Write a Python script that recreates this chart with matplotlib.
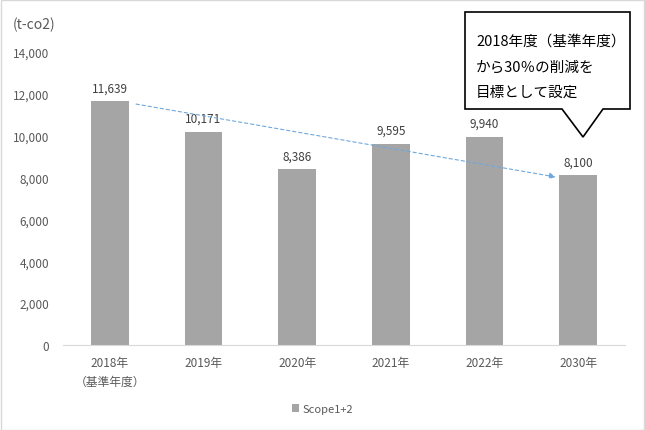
import matplotlib.pyplot as plt
from matplotlib.patches import Polygon

plt.rcParams['font.family'] = ['Noto Sans CJK JP', 'DejaVu Sans']

years = ['2018年\n（基準年度）', '2019年', '2020年', '2021年', '2022年', '2030年']
scope12 = [11639, 10171, 8386, 9595, 9940, 8100]
yticks = [0, 2000, 4000, 6000, 8000, 10000, 12000, 14000]

txt = '#595959'
fig = plt.figure(figsize=(6.45, 4.31), dpi=100)
ax = fig.add_axes([63 / 645, 85 / 431, 562 / 645, 293.3 / 431])

x = list(range(len(scope12)))
bars = ax.bar(x, scope12, width=0.4, color='#a5a5a5', label='Scope1+2', zorder=2)
ax.bar_label(bars, labels=[f'{v:,}' for v in scope12], padding=5, fontsize=8.5, color='#404040')

ax.set_xlim(-0.5, 5.5)
ax.set_ylim(0, 14000)
ax.set_yticks(yticks)
ax.set_yticklabels([f'{v:,}' for v in yticks])
ax.set_xticks(x)
ax.set_xticklabels(years, linespacing=1.6)
ax.tick_params(length=0, labelsize=8.5, colors=txt)
ax.tick_params(axis='y', pad=10)
ax.tick_params(axis='x', pad=8)
for s in ['top', 'right', 'left']:
    ax.spines[s].set_visible(False)
ax.spines['bottom'].set_color('#d9d9d9')

# dashed trend arrow from base year toward 2030 target
ax.annotate('', xy=(x[-1] - 0.24, 8020), xytext=(x[0] + 0.28, 11500),
            arrowprops=dict(arrowstyle='-|>', color='#6fa8dc', lw=0.8, ls=(0, (3, 2.5)),
                            mutation_scale=9, shrinkA=0, shrinkB=0), zorder=3)

fig.text(13 / 645, 1 - 25 / 431, '(t-co2)', fontsize=10, color=txt, va='center')

# callout box
W, H = 645, 431
pts = [(465, 13), (630, 13), (630, 110), (603, 110), (583, 138), (562, 110), (465, 110)]
fig.patches.append(Polygon([(px / W, 1 - py / H) for px, py in pts], closed=True,
                           transform=fig.transFigure, facecolor='white', edgecolor='black',
                           lw=1.2, zorder=5))
for i, line in enumerate(['2018年度（基準年度）', 'から30％の削減を', '目標として設定']):
    fig.text(476 / W, 1 - (42 + i * 25.5) / H, line, fontsize=10.5, color='black',
             va='center', ha='left', zorder=6)

fig.legend(loc='center', bbox_to_anchor=(0.5, 1 - 410 / 431), frameon=False,
           handlelength=0.7, handleheight=0.7, handletextpad=0.3, fontsize=8, labelcolor=txt)

fig.patches.append(plt.Rectangle((0.001, 0.001), 0.997, 0.997, transform=fig.transFigure,
                                 fill=False, edgecolor='#d9d9d9', lw=1))

fig.savefig('out.png', dpi=100)
